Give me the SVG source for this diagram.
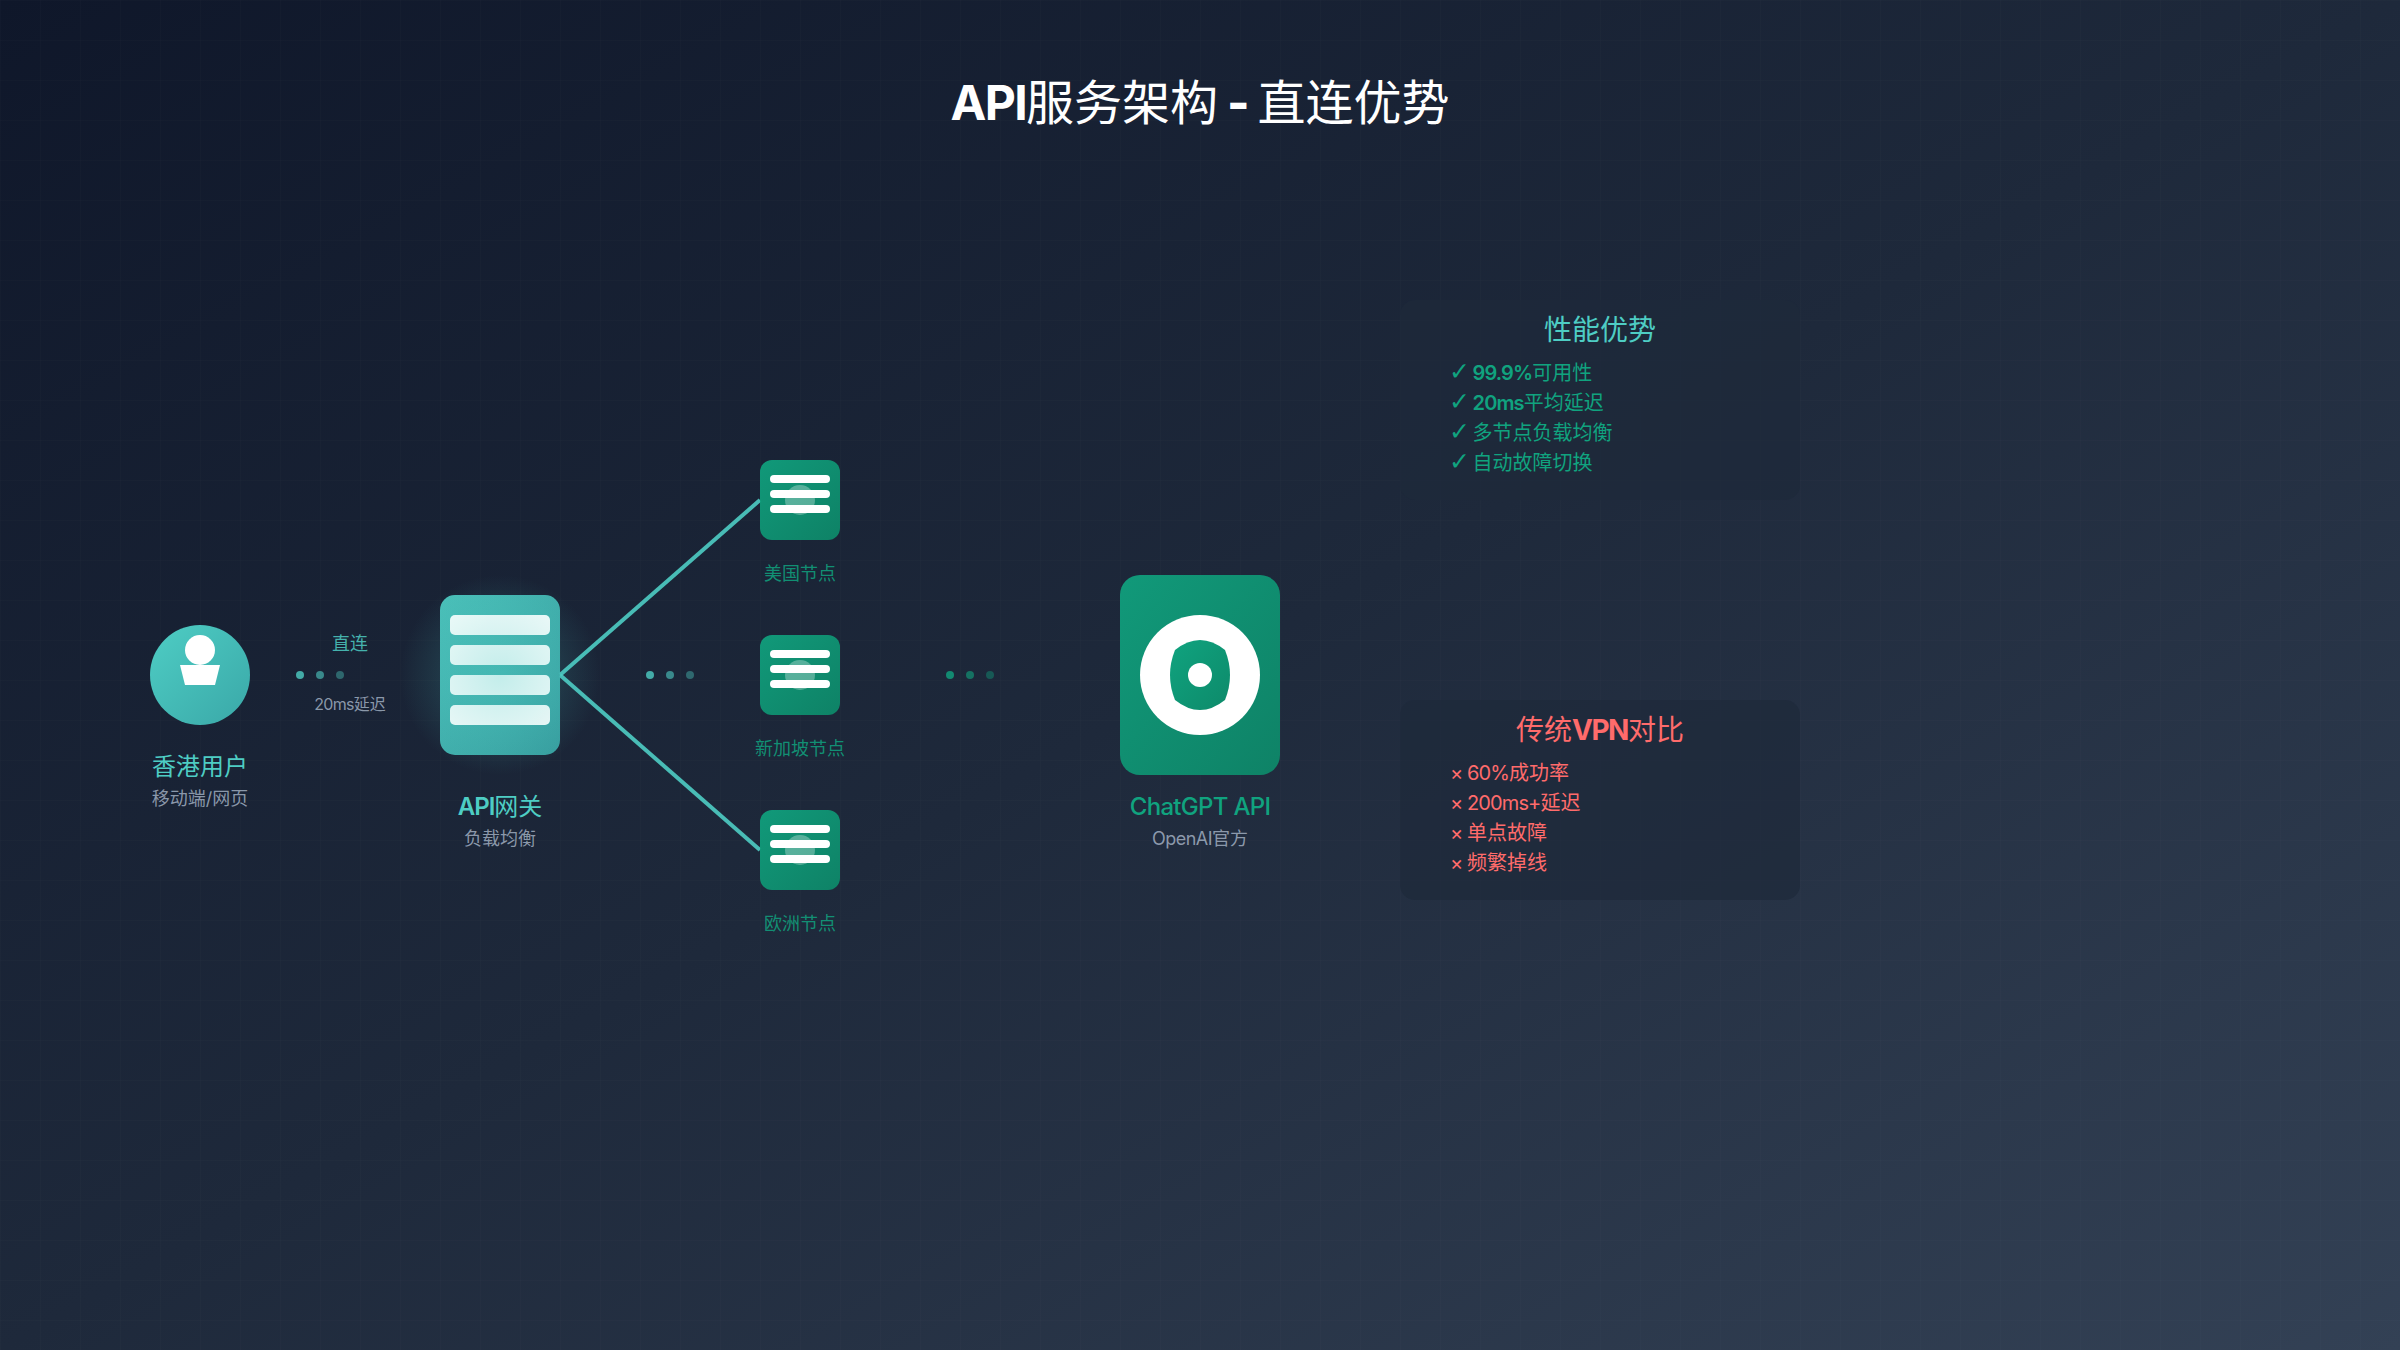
<svg xmlns="http://www.w3.org/2000/svg" width="2400" height="1350" viewBox="0 0 2400 1350">
<defs>
<linearGradient id="bg" x1="0" y1="0" x2="1" y2="1"><stop offset="0" stop-color="#0f172a"/><stop offset="0.5" stop-color="#1e293b"/><stop offset="1" stop-color="#334155"/></linearGradient>
<linearGradient id="teal" x1="0" y1="0" x2="1" y2="1"><stop offset="0" stop-color="#4ecdc4"/><stop offset="1" stop-color="#3aa8a8"/></linearGradient>
<linearGradient id="green" x1="0" y1="0" x2="1" y2="1"><stop offset="0" stop-color="#10a37f"/><stop offset="1" stop-color="#0d8a6a"/></linearGradient>
<radialGradient id="glow"><stop offset="0" stop-color="#4ecdc4" stop-opacity="0.3"/><stop offset="1" stop-color="#4ecdc4" stop-opacity="0"/></radialGradient>
<pattern id="grid" width="40" height="40" patternUnits="userSpaceOnUse"><path d="M40 0H0V40" fill="none" stroke="#ffffff" stroke-opacity="0.02" stroke-width="1"/></pattern>
</defs>
<style>
text{font-family:Inter,"Noto Sans CJK SC",sans-serif;text-anchor:middle}
.b{font-weight:700}
.sb{font-weight:600}
.l{text-anchor:start;font-size:20px}
.n{letter-spacing:-.9px}
.c{font-family:"DejaVu Sans",sans-serif;font-weight:700;font-size:25px}
.t{fill:#4ecdc4}
.g{fill:#10a37f}
.r{fill:#ff6b6b}
.m{fill:#a0aec0;fill-opacity:.85}
.lbl{fill-opacity:.85}
.s{font-size:18px}
.h{font-size:24px}
.p{font-size:28px}
.bar{fill:#fff}
.panel{fill:#1e293b;fill-opacity:.7}
.card{opacity:.92}
</style>
<rect width="2400" height="1350" fill="url(#bg)"/>
<rect width="2400" height="1350" fill="url(#grid)"/>
<text id="title" x="1200" y="120" font-size="48" fill="#fff"><tspan class="b" letter-spacing="-1.7">API</tspan>服务架构<tspan font-weight="800" letter-spacing="-1.4"> - </tspan>直连优势</text>
<g id="connectors">
<line x1="560" y1="675" x2="760" y2="500" stroke="#4ecdc4" stroke-width="4" opacity=".9"/>
<line x1="560" y1="675" x2="760" y2="850" stroke="#4ecdc4" stroke-width="4" opacity=".9"/>
<g class="t"><circle cx="300" cy="675" r="4" opacity=".8"/><circle cx="320" cy="675" r="4" opacity=".6"/><circle cx="340" cy="675" r="4" opacity=".4"/>
<circle cx="650" cy="675" r="4" opacity=".8"/><circle cx="670" cy="675" r="4" opacity=".6"/><circle cx="690" cy="675" r="4" opacity=".4"/></g>
<g class="g"><circle cx="950" cy="675" r="4" opacity=".8"/><circle cx="970" cy="675" r="4" opacity=".6"/><circle cx="990" cy="675" r="4" opacity=".4"/></g>
<text x="350" y="650" class="t s lbl">直连</text>
<text x="350" y="710" class="m" font-size="16"><tspan letter-spacing="-.7">20ms</tspan>延迟</text>
</g>
<g id="user">
<circle cx="200" cy="675" r="50" fill="url(#teal)"/>
<circle cx="200" cy="650" r="15" fill="#fff"/>
<path d="M180 665H220L215 685H185Z" fill="#fff"/>
<text x="200" y="775" class="t h">香港用户</text>
<text x="200" y="805" class="m s">移动端/网页</text>
</g>
<g id="gateway">
<rect x="440" y="595" width="120" height="160" rx="15" fill="url(#teal)" class="card"/>
<rect x="450" y="615" width="100" height="20" rx="5" class="bar" opacity=".95"/>
<rect x="450" y="645" width="100" height="20" rx="5" class="bar" opacity=".95"/>
<rect x="450" y="675" width="100" height="20" rx="5" class="bar" opacity=".95"/>
<rect x="450" y="705" width="100" height="20" rx="5" class="bar" opacity=".95"/>
<circle cx="500" cy="675" r="100" fill="url(#glow)"/>
<text x="500" y="815" class="t h"><tspan class="sb" letter-spacing="-1">API</tspan>网关</text>
<text x="500" y="845" class="m s">负载均衡</text>
</g>
<g id="node-us">
<rect x="760" y="460" width="80" height="80" rx="12" fill="url(#green)" class="card"/>
<circle cx="800" cy="500" r="15" fill="#fff" opacity=".3"/>
<rect x="770" y="475" width="60" height="8" rx="4" class="bar"/><rect x="770" y="490" width="60" height="8" rx="4" class="bar"/><rect x="770" y="505" width="60" height="8" rx="4" class="bar"/>
<text x="800" y="580" class="g s lbl">美国节点</text>
</g>
<g id="node-sg">
<rect x="760" y="635" width="80" height="80" rx="12" fill="url(#green)" class="card"/>
<circle cx="800" cy="675" r="15" fill="#fff" opacity=".3"/>
<rect x="770" y="650" width="60" height="8" rx="4" class="bar"/><rect x="770" y="665" width="60" height="8" rx="4" class="bar"/><rect x="770" y="680" width="60" height="8" rx="4" class="bar"/>
<text x="800" y="755" class="g s lbl">新加坡节点</text>
</g>
<g id="node-eu">
<rect x="760" y="810" width="80" height="80" rx="12" fill="url(#green)" class="card"/>
<circle cx="800" cy="850" r="15" fill="#fff" opacity=".3"/>
<rect x="770" y="825" width="60" height="8" rx="4" class="bar"/><rect x="770" y="840" width="60" height="8" rx="4" class="bar"/><rect x="770" y="855" width="60" height="8" rx="4" class="bar"/>
<text x="800" y="930" class="g s lbl">欧洲节点</text>
</g>
<g id="chatgpt">
<rect x="1120" y="575" width="160" height="200" rx="20" fill="url(#green)" class="card"/>
<circle cx="1200" cy="675" r="60" fill="#fff"/>
<path d="M1175 650Q1200 630 1225 650Q1235 675 1225 700Q1200 720 1175 700Q1165 675 1175 650Z" fill="url(#green)"/>
<circle cx="1200" cy="675" r="12" fill="#fff"/>
<text x="1200" y="815" class="g h" font-weight="500" letter-spacing="-.7">ChatGPT API</text>
<text x="1200" y="845" class="m s"><tspan letter-spacing="-.5">OpenAI</tspan>官方</text>
</g>
<g id="panel-performance">
<rect x="1400" y="300" width="400" height="200" rx="15" class="panel"/>
<text x="1600" y="340" class="t p">性能优势</text>
<text x="1449" y="380" class="g l"><tspan class="c">✓</tspan><tspan dx="-3"> </tspan><tspan class="sb n">99.9%</tspan>可用性</text>
<text x="1449" y="410" class="g l"><tspan class="c">✓</tspan><tspan dx="-3"> </tspan><tspan class="sb n">20ms</tspan>平均延迟</text>
<text x="1449" y="440" class="g l"><tspan class="c">✓</tspan><tspan dx="-3"> </tspan>多节点负载均衡</text>
<text x="1449" y="470" class="g l"><tspan class="c">✓</tspan><tspan dx="-3"> </tspan>自动故障切换</text>
</g>
<g id="panel-vpn">
<rect x="1400" y="700" width="400" height="200" rx="15" class="panel"/>
<text x="1600" y="740" class="r p">传统<tspan class="b" letter-spacing="-1.5">VPN</tspan>对比</text>
<text x="1450" y="780" class="r l"><tspan class="n">× 60%</tspan>成功率</text>
<text x="1450" y="810" class="r l"><tspan class="n">× 200ms+</tspan>延迟</text>
<text x="1450" y="840" class="r l"><tspan class="n">× </tspan>单点故障</text>
<text x="1450" y="870" class="r l"><tspan class="n">× </tspan>频繁掉线</text>
</g>
</svg>
